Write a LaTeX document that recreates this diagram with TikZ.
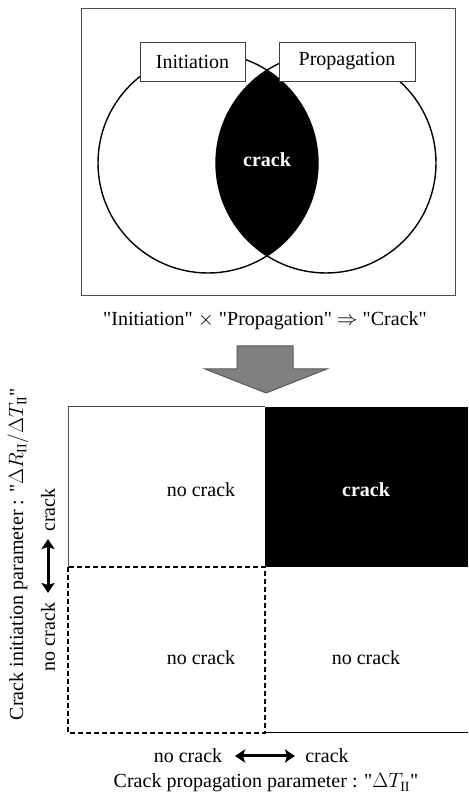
\documentclass[tikz,border=0pt]{standalone}
\usepackage{fontspec}
\setmainfont{Liberation Serif}
\usetikzlibrary{arrows.meta}
\newcommand{\qq}{\textquotedbl}
\tikzset{
  lbl/.style={font=\fontsize{20}{23}\selectfont, inner sep=0pt},
  wlbl/.style={lbl, text=white, font=\fontsize{20}{23}\selectfont\bfseries},
  tag/.style={draw=black!75, fill=white, line width=0.9pt, font=\fontsize{20}{23}\selectfont, inner sep=0pt},
  circ/.style={draw=black, line width=1.4pt},
  dbl/.style={line width=3pt, {Stealth[length=10pt,width=13pt,inset=2pt]}-{Stealth[length=10pt,width=13pt,inset=2pt]}},
}
\begin{document}
\begin{tikzpicture}[x=1pt,y=1pt]
\useasboundingbox (0,0) rectangle (468,794);
% top frame
\draw[draw=black!70, line width=1pt] (81,785.3) rectangle (455,498);
% lens
\begin{scope}
  \clip (208,631) circle (110);
  \fill[black] (326,631) circle (110);
\end{scope}
\draw[circ] (208,631) circle (110);
\draw[circ] (326,631) circle (110);
\node[tag, minimum width=105pt, minimum height=39pt] (ini) at (192.5,732.5) {Initiation};
\node[tag, minimum width=136pt, minimum height=39pt] (pro) at (347,732.5) {Propagation};
\node[wlbl] (lens) at (267,634) {crack};
\node[lbl] (cap) at (265,473) {\qq Initiation\qq\ $\times$ \qq Propagation\qq\ $\Rightarrow$ \qq Crack\qq};
% block arrow
\draw[draw=black!65, fill=black!50, line width=1pt]
  (237,448) -- (293,448) -- (293,425) -- (327,425) -- (266,401) -- (205,425) -- (237,425) -- cycle;
% lower chart
\fill[black] (265,387) rectangle (468,227);
\draw[draw=black!70, line width=1pt] (68,387) -- (265,387);
\draw[draw=black!70, line width=1pt] (68,387) -- (68,227);
\draw[black, line width=1pt] (265,61) -- (468,61);
\draw[black, line width=1.5pt, dash pattern=on 5pt off 3pt] (68,227) rectangle (265,61);
\node[lbl] (a) at (201,304) {no crack};
\node[wlbl] (b) at (366,304) {crack};
\node[lbl] (c) at (201,136) {no crack};
\node[lbl] (d) at (366,136) {no crack};
% left axis
\node[lbl, rotate=90] (yl) at (18,240) {Crack initiation parameter : \qq$\Delta R_{\mathrm{II}}/\Delta T_{\mathrm{II}}$\qq};
\node[lbl, rotate=90] (yc) at (48,284) {crack};
\node[lbl, rotate=90] (yn) at (48,157) {no crack};
\coordinate (yt) at (48,255);
\coordinate (yb) at (48,201);
\draw[dbl] (yb) -- (yt);
% bottom axis
\node[lbl] (xn) at (188,38) {no crack};
\node[lbl] (xc) at (327,38) {crack};
\coordinate (xa) at (235,38);
\coordinate (xb) at (295,38);
\draw[dbl] (xa) -- (xb);
\node[lbl] (xl) at (266,11) {Crack propagation parameter : \qq$\Delta T_{\mathrm{II}}$\qq};
\end{tikzpicture}
\end{document}
